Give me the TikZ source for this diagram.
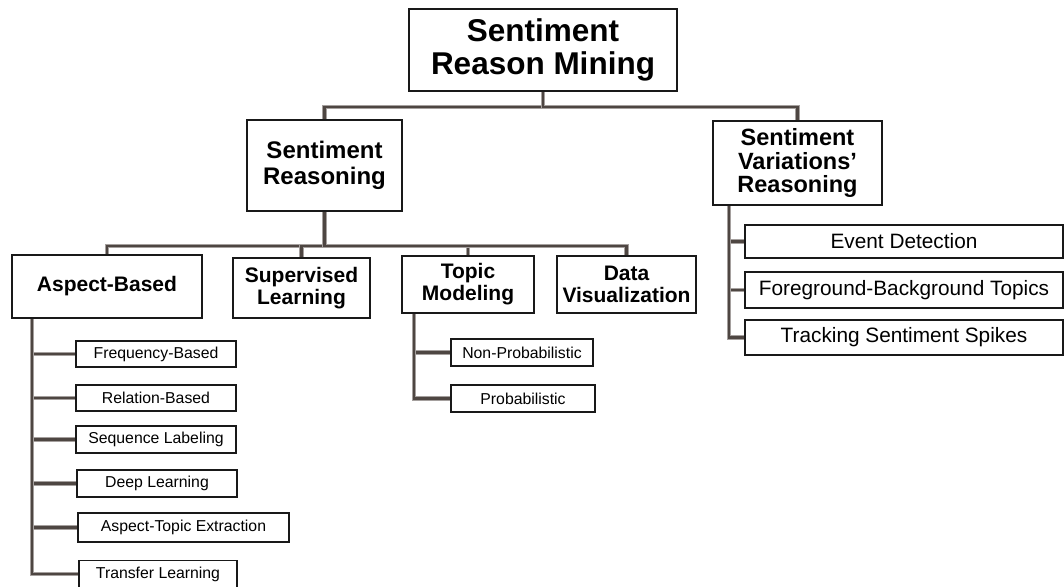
\documentclass[tikz,border=0pt]{standalone}
\usepackage{fontspec}
\setmainfont{Liberation Sans}
\usetikzlibrary{backgrounds}
\definecolor{conndark}{RGB}{78,70,66}
\definecolor{connlight}{RGB}{165,160,158}
\tikzset{
  box/.style={draw=black!90, line width=1.8pt, fill=white, inner sep=0pt, align=center},
  big/.style={box, font=\fontsize{31.5}{33}\selectfont\bfseries},
  mid/.style={box, font=\fontsize{24}{26}\selectfont\bfseries},
  lvl/.style={box, font=\fontsize{21}{22}\selectfont\bfseries},
  leaf/.style={box, line width=1.6pt, font=\fontsize{15.8}{17}\selectfont},
  rleaf/.style={box, line width=1.6pt, font=\fontsize{20.8}{22}\selectfont},
  conn/.style={line width=2.6pt, draw=conndark, line join=miter,
    preaction={draw=connlight, line width=4.6pt}}
}
\begin{document}
\begin{tikzpicture}[x=1pt,y=-1pt]
\useasboundingbox (0,0) rectangle (1064,586);
% top
\node[big, minimum width=268, minimum height=82] (root) at (543,50) {Sentiment\\Reason Mining};
\node[mid, minimum width=155, minimum height=91] (sr) at (324.5,165.5) {Sentiment\\Reasoning};
\node[box, font=\fontsize{23.5}{23.5}\selectfont\bfseries, minimum width=169, minimum height=84] (svr) at (797.5,163) {Sentiment\\Variations’\\Reasoning};
% level 2
\node[lvl, minimum width=190, minimum height=63] (ab) at (107,286.5) {Aspect-Based};
\node[lvl, minimum width=137, minimum height=60] (sl) at (301.5,288) {Supervised\\Learning};
\node[lvl, minimum width=132, minimum height=57] (tm) at (468,284.5) {Topic\\Modeling};
\node[lvl, minimum width=139, minimum height=57] (dv) at (626.5,284.5) {Data\\Visualization};
% aspect leaves
\node[leaf, minimum width=160, minimum height=26] (fb) at (156,354) {Frequency-Based};
\node[leaf, minimum width=160, minimum height=26] (rb) at (156,398) {Relation-Based};
\node[leaf, minimum width=160, minimum height=27] (sq) at (156,439.5) {Sequence Labeling};
\node[leaf, minimum width=160, minimum height=27] (dl) at (157,483.5) {Deep Learning};
\node[leaf, minimum width=211, minimum height=29] (ate) at (183.5,527.5) {Aspect-Topic Extraction};
\node[leaf, minimum width=158, minimum height=27] (tl) at (158,574) {Transfer Learning};
% topic leaves
\node[leaf, minimum width=142, minimum height=27] (np) at (522,352.5) {Non-Probabilistic};
\node[leaf, minimum width=144, minimum height=27] (pr) at (523,398.5) {Probabilistic};
% right leaves
\node[rleaf, minimum width=318, minimum height=33] (ed) at (904,241.5) {Event Detection};
\node[rleaf, minimum width=318, minimum height=36] (fbt) at (904,290) {Foreground-Background Topics};
\node[rleaf, minimum width=318, minimum height=35] (tss) at (904,337.5) {Tracking Sentiment Spikes};
% spines
\coordinate (abS) at ([xshift=21]ab.south west);
\coordinate (tmS) at ([xshift=13]tm.south west);
\coordinate (svS) at ([xshift=17]svr.south west);
\begin{scope}[on background layer]
\draw[conn] (root.south) -- ++(0,15) -| (sr.north);
\draw[conn] (root.south) -- ++(0,15) -| (svr.north);
\draw[conn] (sr.south) -- ++(0,34) -| (ab.north);
\draw[conn] (sr.south) -- ++(0,34) -| (sl.north);
\draw[conn] (sr.south) -- ++(0,34) -| (tm.north);
\draw[conn] (sr.south) -- ++(0,34) -| (dv.north);
\foreach \n in {fb,rb,sq,dl,ate,tl} \draw[conn] (abS) |- (\n.west);
\foreach \n in {np,pr} \draw[conn] (tmS) |- (\n.west);
\foreach \n in {ed,fbt,tss} \draw[conn] (svS) |- (\n.west);
\end{scope}
\end{tikzpicture}
\end{document}
